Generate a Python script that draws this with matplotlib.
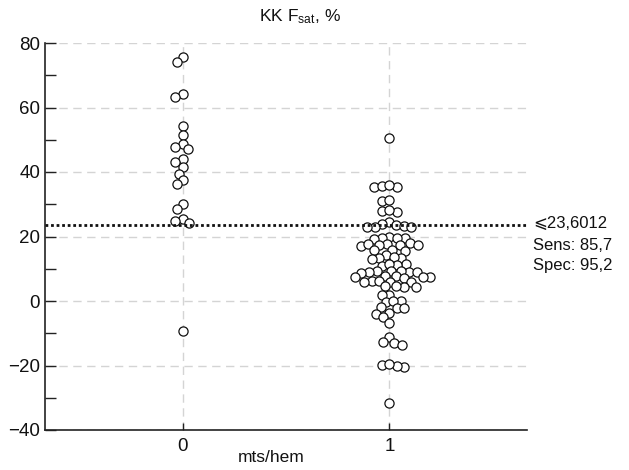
import matplotlib
matplotlib.use("Agg")
import matplotlib.pyplot as plt
import numpy as np
from matplotlib.ticker import MultipleLocator

plt.rcParams['font.family'] = ['Liberation Sans', 'DejaVu Sans']
plt.rcParams['mathtext.fontset'] = 'custom'
plt.rcParams['mathtext.rm'] = 'Liberation Sans'
plt.rcParams['mathtext.it'] = 'Liberation Sans'

categories = [0, 1]
group0 = [75.7, 74.2, 64.1, 63.3, 54.4, 51.5, 48.6, 47.8, 47.1, 44.0, 43.2,
          41.4, 39.4, 37.5, 36.3, 30.1, 28.5, 25.5, 24.8, 24.1, -9.3]
group1 = [50.4,
          35.3, 35.5, 35.7, 35.9,
          31.0, 31.2,
          27.6, 27.9, 28.3,
          24.6, 23.9, 23.6, 23.4, 23.1, 22.9, 22.8,
          19.8, 19.6, 19.4, 19.2, 19.5,
          17.9, 17.6, 17.4, 17.3, 17.1, 17.5, 17.8,
          15.9, 15.7, 15.5,
          14.3,
          13.4, 13.2, 13.1, 13.5,
          11.4, 11.2, 10.9, 11.6,
          9.3, 9.1, 8.9, 9.2, 9.0, 8.8, 9.4,
          7.6, 7.4, 7.7, 7.3, 7.5, 7.2,
          6.1, 5.9, 6.2, 5.8, 6.0,
          4.5, 4.3, 4.6, 4.2,
          2.0, 1.8,
          -0.1, -0.3, 0.0,
          -2.1, -2.3, -2.0,
          -3.6, -3.9,
          -4.9,
          -6.7,
          -11.2,
          -12.6, -13.0, -13.5,
          -20.4, -20.2, -19.9, -19.5,
          -31.6]
cutoff = 23.6012
cutoff_label = "\u2a7d23,6012"
sens_label = "Sens: 85,7"
spec_label = "Spec: 95,2"
yticks = [-40, -20, 0, 20, 40, 60, 80]
title = "KK F$_{\\mathrm{sat}}$, %"
xlabel = "mts/hem"

fig = plt.figure(figsize=(6.29, 4.70), dpi=100)
ax = fig.add_axes([45 / 629, 40 / 470, 482 / 629, 387 / 470])
ax.set_xlim(-0.665, 1.665)
ax.set_ylim(-40, 80)


def swarm_offsets(values, ax, min_dist_px):
    """Simple beeswarm: compute horizontal offsets (data units) so that
    markers (in display pixels) are at least min_dist_px apart."""
    t = ax.transData
    px_per_x = t.transform((1, 0))[0] - t.transform((0, 0))[0]
    ys = np.array([t.transform((0, v))[1] for v in values])
    order = np.argsort(-np.array(values), kind='stable')
    placed = []  # (xpx, ypx)
    xs = np.zeros(len(values))
    for i in order:
        y = ys[i]
        near = [(px, py) for (px, py) in placed if abs(py - y) < min_dist_px]
        cands = [0.0]
        for px, py in near:
            dx = np.sqrt(max(min_dist_px ** 2 - (py - y) ** 2, 0.0))
            cands += [px + dx, px - dx]
        cands = sorted(cands, key=lambda c: (round(abs(c), 6), c))
        chosen = cands[-1]
        for c in cands:
            if all((c - px) ** 2 + (y - py) ** 2 >= min_dist_px ** 2 - 1e-6
                   for px, py in near):
                chosen = c
                break
        xs[i] = chosen
        placed.append((chosen, y))
    return xs / px_per_x


ax.grid(True, color='#d4d4d4', linestyle=(0, (6, 4)), linewidth=1.0, zorder=0)
ax.set_axisbelow(True)

for cat, vals in zip(categories, [group0, group1]):
    offs = swarm_offsets(vals, ax, 7.6)
    ax.scatter(cat + offs, vals, s=6.6 ** 2, facecolor='white',
               edgecolor='#111111', linewidth=0.9, zorder=3)

ax.axhline(cutoff, color='#111111', linestyle=(0, (1, 1)), linewidth=2.0, zorder=4)

ax.set_yticks(yticks)
ax.yaxis.set_minor_locator(MultipleLocator(10))
ax.set_xticks(categories)
ax.set_xticklabels([str(c) for c in categories])

for s in ['top', 'right']:
    ax.spines[s].set_visible(False)
for s in ['left', 'bottom']:
    ax.spines[s].set_linewidth(1.2)
    ax.spines[s].set_color('#222222')

ax.tick_params(axis='both', which='major', direction='in', length=8, width=1,
               labelsize=13.5, colors='#222222', labelcolor='#111111')
ax.tick_params(axis='y', which='minor', direction='in', length=8, width=1,
               colors='#222222')
ax.tick_params(axis='x', which='major', length=5, pad=6)

ax.set_xlabel(xlabel, fontsize=12.5, color='#111111')
ax.xaxis.set_label_coords(0.47, -0.052)
fig.text(300 / 629, 1 - 17 / 470, title, fontsize=12.5, color='#111111',
         ha='center', va='center')

tr = ax.get_yaxis_transform()
ax.text(1.012, cutoff + 0.5, cutoff_label, transform=tr,
        fontsize=12, va='center', ha='left', color='#111111')
ax.text(1.012, cutoff - 6.3, sens_label, transform=tr,
        fontsize=12, va='center', ha='left', color='#111111')
ax.text(1.012, cutoff - 12.5, spec_label, transform=tr,
        fontsize=12, va='center', ha='left', color='#111111')

fig.savefig("out.png", dpi=100)
